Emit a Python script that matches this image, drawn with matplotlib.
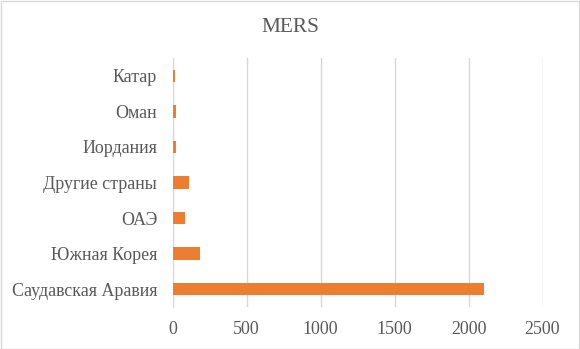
import matplotlib.pyplot as plt
from matplotlib.patches import Rectangle

countries = ["Саудавская Аравия", "Южная Корея", "ОАЭ", "Другие страны",
             "Иордания", "Оман", "Катар"]
cases = [2105, 186, 85, 111, 22, 22, 17]
xticks = [0, 500, 1000, 1500, 2000, 2500]

plt.rcParams['font.family'] = ['Liberation Serif', 'DejaVu Serif']

fig = plt.figure(figsize=(5.8, 3.49), dpi=100)
ax = fig.add_axes([172.5 / 580, 1 - 307 / 349, (542.5 - 172.5) / 580, (307 - 58) / 349])

ax.barh(range(len(countries)), cases, height=0.35, color="#ED7D31", zorder=3)
ax.set_xlim(0, 2500)
ax.set_ylim(-0.5, len(countries) - 0.5)
ax.set_xticks(xticks)
ax.set_yticks(range(len(countries)))
ax.set_yticklabels(countries)
ax.grid(axis="x", color="#d9d9d9", linewidth=1, zorder=0)
for s in ["top", "right", "bottom"]:
    ax.spines[s].set_visible(False)
ax.spines["left"].set_color("#d9d9d9")
ax.tick_params(axis="both", length=0, labelsize=12.9, colors="#595959")
ax.tick_params(axis="y", pad=11)
ax.tick_params(axis="x", pad=10)

fig.text(0.5, 1 - 28 / 349, "MERS", ha="center", va="center", fontsize=15.4, color="#595959")
fig.patches.append(Rectangle((0.5 / 580, 0.5 / 349), 578.5 / 580, 347.5 / 349, transform=fig.transFigure,
                             fill=False, edgecolor="#d9d9d9", linewidth=1))

fig.savefig("out.png", dpi=100)
